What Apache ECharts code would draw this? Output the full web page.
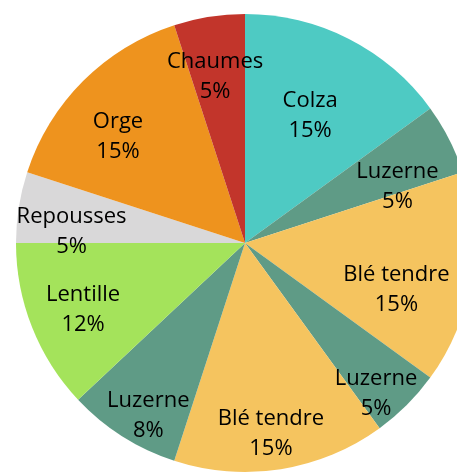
<!DOCTYPE html>
<html>
<head>
<meta charset="utf-8">
<script src="https://cdn.jsdelivr.net/npm/echarts@6/dist/echarts.min.js"></script>
<style>
html, body { margin: 0; padding: 0; background: #fff; }
#pieChart { width: 457px; height: 474px; }
</style>
</head>
<body>
<div id="pieChart"></div>
<script>
// données du camembert (sens horaire depuis midi)
var cultures = ['Colza', 'Luzerne', 'Blé tendre', 'Luzerne', 'Blé tendre', 'Luzerne', 'Lentille', 'Repousses', 'Orge', 'Chaumes'];
var parts = [15, 5, 15, 5, 15, 8, 12, 5, 15, 5];
var couleurs = ['#4ecac3', '#5f9b86', '#f5c45f', '#5f9b86', '#f5c45f', '#5f9b86', '#a4e35b', '#d9d8d9', '#ee931e', '#c2352b'];

// petits décalages des étiquettes (placement "au mieux" du graphique d'origine)
var decalX = [-10, 5, -12, 14, 0, -8, -8, -10, -10, -4];
var decalY = [21, 20, 22, 35, 28, 34, 7, 16, 12, -2];

var pieData = cultures.map(function (nom, i) {
    return { name: nom, value: parts[i], itemStyle: { color: couleurs[i] } };
});
var labelData = cultures.map(function (nom, i) {
    return { name: nom, value: parts[i] };
});

var option = {
    animation: false,
    series: [{
        type: 'pie',
        center: [245, 243],
        radius: [0, 229],
        startAngle: 90,
        silent: true,
        label: { show: false },
        labelLine: { show: false },
        itemStyle: { borderWidth: 0 },
        data: pieData
    }, {
        // série transparente qui sert seulement à placer les étiquettes
        type: 'pie',
        center: [245, 242],
        radius: [96, 229],
        startAngle: 90,
        silent: true,
        itemStyle: { color: 'rgba(0,0,0,0)', borderWidth: 0 },
        label: {
            show: true,
            position: 'inside',
            formatter: '{b}\n{c}%',
            color: '#000',
            fontFamily: 'Open Sans',
            fontSize: 22,
            lineHeight: 30
        },
        labelLine: { show: false },
        labelLayout: function (params) {
            return {
                hideOverlap: false,
                dx: decalX[params.dataIndex],
                dy: decalY[params.dataIndex]
            };
        },
        data: labelData
    }]
};

var pieChart = echarts.init(document.getElementById('pieChart'));
pieChart.setOption(option);
</script>
</body>
</html>
